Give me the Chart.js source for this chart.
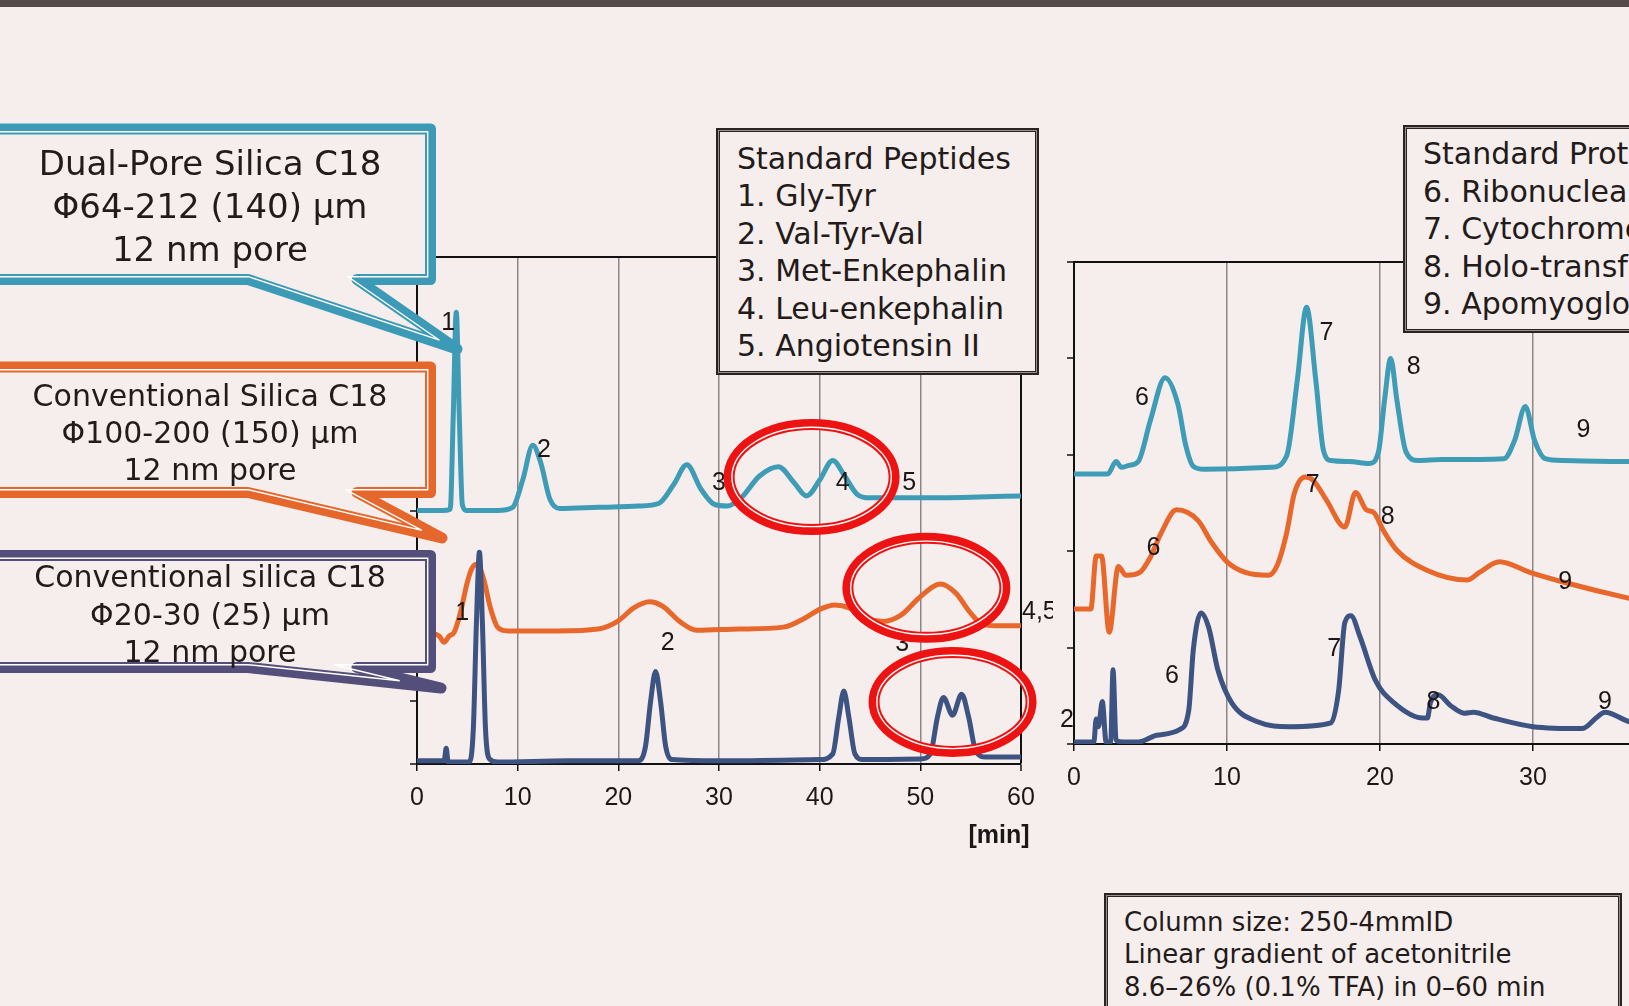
<!DOCTYPE html>
<html>
<head>
<meta charset="utf-8">
<script src="https://cdn.jsdelivr.net/npm/chart.js@4.4.1/dist/chart.umd.min.js"></script>
<style>
html, body { margin: 0; padding: 0; overflow: hidden; }
body { width: 1629px; height: 1006px; background: #f6eeec; position: relative;
       font-family: "DejaVu Sans", sans-serif; color: #231a1a; }
#topbar { position: absolute; left: 0; top: 0; width: 100%; height: 7px; background: #554b4b; }
canvas { position: absolute; top: 0; }
#peptides { left: 0; }
#proteins { left: 1040px; }
#shapes { position: absolute; left: 0; top: 0; }
.callout { position: absolute; left: 0; width: 420px; text-align: center; white-space: nowrap; }
.legend { position: absolute; box-sizing: border-box; background: #f6eeec; white-space: nowrap;
          border: 2px solid #2b2222; box-shadow: inset 0 0 0 1px #9a8e8e, inset 0 0 0 2px #2b2222; }
#unit { position: absolute; left: 939px; top: 819px; width: 120px; text-align: center;
        font: bold 25px "Liberation Sans", Arial, sans-serif; line-height: 30px; color: #1c1616; }
</style>
</head>
<body>
<div id="topbar"></div>
<canvas id="peptides" width="1053" height="860"></canvas>
<canvas id="proteins" width="680" height="860"></canvas>
<svg id="shapes" width="1629" height="1006"></svg>

<div class="callout" style="top:141.5px;font-size:34px;line-height:43px;">Dual-Pore Silica C18<br>Φ64-212 (140) μm<br>12 nm pore</div>
<div class="callout" style="top:376.5px;font-size:30px;line-height:37px;">Conventional Silica C18<br>Φ100-200 (150) μm<br>12 nm pore</div>
<div class="callout" style="top:558px;font-size:30px;line-height:37.5px;">Conventional silica C18<br>Φ20-30 (25) μm<br>12 nm pore</div>

<div class="legend" style="left:716px;top:128px;width:323px;height:247px;padding:10px 0 0 19px;font-size:30px;line-height:37.4px;">Standard Peptides<br>1. Gly-Tyr<br>2. Val-Tyr-Val<br>3. Met-Enkephalin<br>4. Leu-enkephalin<br>5. Angiotensin II</div>
<div class="legend" style="left:1403px;top:125px;width:400px;height:208px;padding:8px 0 0 18px;font-size:30px;line-height:37.5px;">Standard Proteins<br>6. Ribonuclease A<br>7. Cytochrome c<br>8. Holo-transferrin<br>9. Apomyoglobin</div>
<div class="legend" style="left:1104px;top:893px;width:518px;height:140px;padding:10.75px 0 0 18px;font-size:26px;line-height:32.5px;">Column size: 250-4mmID<br>Linear gradient of acetonitrile<br>8.6–26% (0.1% TFA) in 0–60 min</div>

<div id="unit">[min]</div>

<script>
// ---- peptides, time [min] / signal (offset traces)
const pepDualT = [0, 2.5, 3.3, 3.6, 3.9, 4.2, 4.5, 4.9, 6, 8, 9.5, 10.5, 11.5, 12.3, 13.2, 14.2, 18, 22, 24, 25.5, 26.8, 28.2, 29.5, 30.8, 32.2, 34, 35.9, 37.5, 38.7, 40, 41.3, 42.5, 43.7, 45, 50, 55, 60];
const pepDualV = [4.00, 4.00, 4.02, 5.49, 7.13, 5.49, 4.10, 4.00, 4.00, 4.00, 4.05, 4.48, 5.03, 4.75, 4.18, 4.03, 4.05, 4.07, 4.11, 4.41, 4.72, 4.34, 4.10, 4.07, 4.20, 4.54, 4.69, 4.43, 4.23, 4.48, 4.79, 4.54, 4.26, 4.20, 4.20, 4.21, 4.23];

const pepConvT = [0, 1.5, 2.2, 2.7, 3.2, 3.7, 4.3, 5.0, 5.5, 6.0, 6.6, 7.3, 8.0, 9, 14, 18, 20, 21.5, 23.1, 24.5, 26, 27.8, 32, 36.4, 38.5, 40, 41.5, 43, 44.5, 46.3, 48, 50, 52, 53.5, 55, 56.2, 58, 60];
const pepConvV = [2.05, 2.05, 2.02, 1.92, 2.02, 2.08, 2.38, 2.87, 3.10, 3.15, 2.93, 2.46, 2.16, 2.10, 2.10, 2.13, 2.26, 2.46, 2.56, 2.48, 2.26, 2.11, 2.13, 2.16, 2.30, 2.44, 2.51, 2.46, 2.31, 2.25, 2.34, 2.64, 2.84, 2.70, 2.38, 2.20, 2.18, 2.18];

const pepFineT = [0, 2.7, 2.9, 3.1, 5.2, 5.6, 5.9, 6.2, 6.5, 6.8, 7.2, 8, 15, 22, 22.7, 23.2, 23.7, 24.2, 24.7, 25.3, 30, 40, 41.3, 41.9, 42.4, 42.9, 43.5, 44.3, 50, 51, 51.7, 52.3, 53.2, 54.1, 54.8, 55.5, 56.5, 60];
const pepFineV = [0.05, 0.05, 0.25, 0.03, 0.03, 0.57, 2.21, 3.34, 2.21, 0.57, 0.08, 0.03, 0.05, 0.05, 0.28, 0.98, 1.46, 0.98, 0.28, 0.07, 0.05, 0.07, 0.16, 0.74, 1.15, 0.74, 0.16, 0.07, 0.08, 0.16, 0.74, 1.05, 0.77, 1.10, 0.74, 0.21, 0.11, 0.11];

// ---- proteins
const proDualT = [0, 2.2, 2.75, 3.1, 3.6, 4.2, 5.0, 5.95, 6.8, 7.3, 7.8, 8.5, 12.9, 13.9, 14.6, 15.2, 15.8, 16.3, 16.8, 18, 19.3, 19.9, 20.3, 20.7, 21.1, 21.7, 22.5, 24, 28.1, 28.8, 29.5, 30.1, 30.8, 32, 36, 40];
const proDualV = [2.80, 2.80, 2.93, 2.87, 2.89, 2.93, 3.36, 3.80, 3.52, 3.10, 2.88, 2.85, 2.87, 2.99, 3.78, 4.53, 3.78, 3.05, 2.94, 2.93, 2.91, 3.03, 3.57, 4.00, 3.57, 3.03, 2.94, 2.95, 2.96, 3.15, 3.50, 3.15, 2.96, 2.94, 2.93, 2.93];

const proConvT = [0, 1.1, 1.45, 1.8, 2.3, 2.9, 3.4, 4.3, 5.0, 5.7, 6.7, 8.1, 9.0, 10.0, 11.2, 12.7, 13.3, 13.9, 14.4, 15.1, 15.6, 16.5, 17.7, 18.4, 19.1, 19.6, 20.2, 21.1, 23.1, 25.7, 26.5, 27.8, 29.8, 32.2, 36.3, 40];
const proConvV = [1.40, 1.40, 1.95, 1.95, 1.16, 1.84, 1.75, 1.78, 1.94, 2.19, 2.43, 2.32, 2.09, 1.89, 1.78, 1.75, 1.86, 2.19, 2.60, 2.77, 2.74, 2.53, 2.25, 2.61, 2.43, 2.40, 2.22, 2.01, 1.80, 1.70, 1.78, 1.89, 1.78, 1.67, 1.51, 1.39];

const proFineT = [0, 1.3, 1.45, 1.6, 1.85, 2.1, 2.4, 2.55, 2.75, 3.2, 4.2, 5.4, 6.9, 7.5, 7.8, 8.3, 8.8, 9.4, 10.3, 12.0, 14.1, 16.8, 17.3, 17.7, 18.1, 18.7, 19.7, 20.9, 22.8, 23.1, 23.3, 23.8, 24.6, 25.5, 26.1, 27.4, 30.0, 33.2, 34.2, 34.7, 36.3, 40];
const proFineV = [0.02, 0.02, 0.26, 0.18, 0.44, 0.02, 0.02, 0.77, 0.04, 0.02, 0.02, 0.09, 0.15, 0.35, 0.98, 1.36, 1.21, 0.77, 0.43, 0.23, 0.18, 0.22, 0.56, 1.26, 1.33, 1.11, 0.66, 0.43, 0.27, 0.27, 0.43, 0.51, 0.40, 0.32, 0.33, 0.27, 0.18, 0.16, 0.28, 0.33, 0.23, 0.15];

// peak numbers: [text, time, signal, align]
const pepPeaks = [['1', 3.1, 6.95], ['2', 12.6, 4.95], ['3', 30.0, 4.43], ['4', 42.3, 4.44], ['5', 48.9, 4.43],
                  ['1', 4.5, 2.38], ['2', 24.9, 1.90], ['3', 48.2, 1.89], ['4,5', 60.1, 2.39, 'left']];
const proPeaks = [['6', 4.44, 3.59], ['7', 16.5, 4.26], ['8', 22.2, 3.91], ['9', 33.3, 3.26],
                  ['7', 15.6, 2.69], ['8', 20.5, 2.35], ['6', 5.2, 2.03], ['9', 32.1, 1.68],
                  ['6', 6.4, 0.70], ['7', 17.0, 0.98], ['8', 23.5, 0.43], ['9', 34.7, 0.43], ['2', -0.46, 0.25]];
// red rings around the late peptide peaks: [time, signal, rx, ry]
const pepRings = [[39.2, 4.53, 82.5, 52.5], [50.6, 2.78, 78.5, 49.5], [53.2, 0.98, 78.5, 49.5]];

const TEAL = '#3f9cb7', ORANGE = '#e8682b', NAVY = '#3d5382';

function pairs(ts, vs) { return ts.map((t, i) => ({ x: t, y: vs[i] })); }

// double stroke: thick band with a thin white line near its inner side
function ringStroke(ctx, cx, cy, rx, ry) {
  ctx.beginPath(); ctx.ellipse(cx, cy, rx, ry, 0, 0, Math.PI * 2);
  ctx.strokeStyle = '#ee1313'; ctx.lineWidth = 11; ctx.stroke();
  ctx.beginPath(); ctx.ellipse(cx, cy, rx - 2.8, ry - 2.8, 0, 0, Math.PI * 2);
  ctx.strokeStyle = '#ffffff'; ctx.lineWidth = 1.4; ctx.stroke();
}

const notesPlugin = {
  id: 'notes',
  beforeDatasetsDraw(chart) {
    // top frame line of the plot area
    const { ctx, chartArea: a } = chart;
    ctx.save();
    ctx.strokeStyle = '#111';
    ctx.lineWidth = 2;
    ctx.beginPath(); ctx.moveTo(a.left, a.top); ctx.lineTo(a.right, a.top); ctx.stroke();
    ctx.restore();
  },
  afterDatasetsDraw(chart, args, opts) {
    const { ctx, scales: { x, y } } = chart;
    ctx.save();
    ctx.font = opts.font;
    ctx.fillStyle = '#1c1616';
    ctx.textBaseline = 'middle';
    (opts.labels || []).forEach(([txt, t, v, align]) => {
      ctx.textAlign = align || 'center';
      ctx.fillText(txt, x.getPixelForValue(t), y.getPixelForValue(v));
    });
    (opts.rings || []).forEach(([t, v, rx, ry]) => {
      ringStroke(ctx, x.getPixelForValue(t), y.getPixelForValue(v), rx, ry);
    });
    ctx.restore();
  }
};

function chromatogram(id, sets, xMax, yMax, pad, notes) {
  return new Chart(document.getElementById(id), {
    type: 'line',
    data: {
      datasets: sets.map(([ts, vs, color]) => ({
        data: pairs(ts, vs), borderColor: color, borderWidth: 5, pointRadius: 0,
        cubicInterpolationMode: 'monotone', fill: false
      }))
    },
    options: {
      responsive: false, animation: false, events: [],
      layout: { padding: pad },
      plugins: { legend: { display: false }, tooltip: { enabled: false }, notes: notes },
      scales: {
        x: {
          type: 'linear', min: 0, max: xMax,
          ticks: { stepSize: 10, padding: 12, color: '#1c1616', font: { family: 'Liberation Sans', size: 25 } },
          grid: {
            color: c => (c.tick.value === 0 || c.tick.value === xMax) ? '#111' : '#8e8686',
            lineWidth: c => c.tick.value === xMax ? 2 : 1.5,
            tickColor: '#111', tickLength: 7, tickWidth: 1.5
          },
          border: { color: '#111', width: 2 },
          afterFit: s => { s.height = 60; s.paddingLeft = 0; s.paddingRight = 0; }
        },
        y: {
          min: 0, max: yMax,
          ticks: { display: false, stepSize: 1 },
          grid: {
            color: 'rgba(0,0,0,0)',
            lineWidth: 2, tickColor: '#111', tickLength: 7, tickWidth: 1.5
          },
          border: { color: '#111', width: 2 },
          afterFit: s => { s.width = 20; s.paddingTop = 0; s.paddingBottom = 0; }
        }
      }
    },
    plugins: [notesPlugin]
  });
}

chromatogram('peptides',
  [[pepFineT, pepFineV, NAVY], [pepConvT, pepConvV, ORANGE], [pepDualT, pepDualV, TEAL]],
  60, 8, { left: 397, top: 257, right: 32, bottom: 36 },
  { font: '25px "Liberation Sans"', labels: pepPeaks, rings: pepRings });

chromatogram('proteins',
  [[proFineT, proFineV, NAVY], [proConvT, proConvV, ORANGE], [proDualT, proDualV, TEAL]],
  40, 5, { left: 14, top: 262, right: 34, bottom: 56 },
  { font: '25px "Liberation Sans"', labels: proPeaks });

// ---- callout boxes with pointer tails (centre line of the border band)
const callouts = [
  { color: '#3d9ab6', top: 129, bottom: 279.5, tip: [457, 349] },
  { color: '#e5672b', top: 367, bottom: 492.5, tip: [442, 538] },
  { color: '#544e7a', top: 555.5, bottom: 667.5, tip: [441, 688] }
];

function inset(pts, d) {
  const n = pts.length, lines = [];
  for (let i = 0; i < n; i++) {
    const a = pts[i], b = pts[(i + 1) % n];
    const dx = b[0] - a[0], dy = b[1] - a[1], len = Math.hypot(dx, dy);
    lines.push({ px: a[0] - dy / len * d, py: a[1] + dx / len * d, dx, dy });
  }
  const out = [];
  for (let i = 0; i < n; i++) {
    const l1 = lines[(i - 1 + n) % n], l2 = lines[i];
    const den = l1.dx * l2.dy - l1.dy * l2.dx;
    const t = ((l2.px - l1.px) * l2.dy - (l2.py - l1.py) * l2.dx) / den;
    out.push([l1.px + l1.dx * t, l1.py + l1.dy * t]);
  }
  return out;
}

function pathOf(pts) { return 'M' + pts.map(p => p[0].toFixed(1) + ',' + p[1].toFixed(1)).join(' L') + ' Z'; }

let svg = '';
callouts.forEach(c => {
  const pts = [[-30, c.top], [430.5, c.top], [430.5, c.bottom], [357, c.bottom], c.tip, [248, c.bottom], [-30, c.bottom]];
  svg += `<path d="${pathOf(pts)}" fill="#f6eeec" stroke="${c.color}" stroke-width="11" stroke-linejoin="round"/>`;
  svg += `<path d="${pathOf(inset(pts, 2.8))}" fill="none" stroke="#ffffff" stroke-width="1.4"/>`;
});
document.getElementById('shapes').innerHTML = svg;
</script>
</body>
</html>
